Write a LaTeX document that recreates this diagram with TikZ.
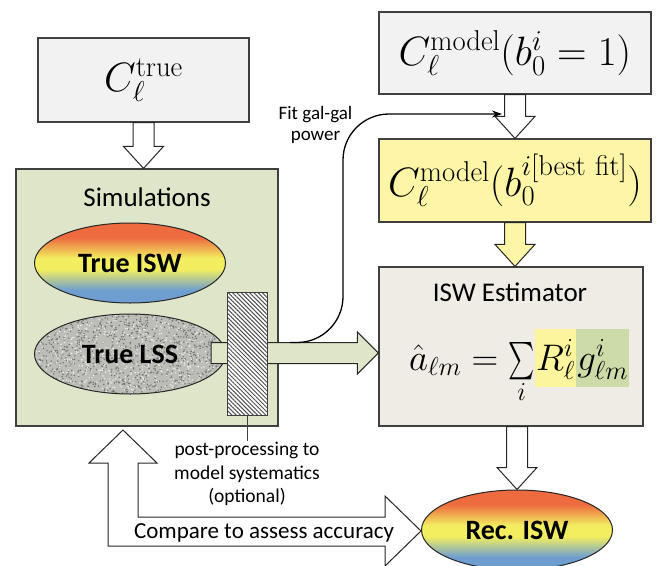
\RequirePackage{fix-cm}
\documentclass[tikz,border=0pt]{standalone}
\usepackage{exscale}
\usepackage{graphicx}
\usepackage[no-math]{fontspec}
\setmainfont{Carlito}
\usetikzlibrary{shapes.geometric, calc, arrows.meta, patterns.meta}

\definecolor{edgegray}{HTML}{404040}
\definecolor{boxgray}{HTML}{F2F2F2}
\definecolor{simgreen}{HTML}{DEE5C8}
\definecolor{boxyellow}{HTML}{FEF6A6}
\definecolor{estgray}{HTML}{EFECE5}
\definecolor{hlyellow}{HTML}{FDF59E}
\definecolor{hlgreen}{HTML}{CDDBA9}
\definecolor{iswred}{HTML}{EE6A3F}
\definecolor{iswyellow}{HTML}{F2EE60}
\definecolor{iswblue}{HTML}{6E9ED0}
\definecolor{lssgray}{HTML}{BDBDB8}
\definecolor{hatchgray}{HTML}{505050}

\pgfdeclareverticalshading{iswshade}{100bp}{color(0bp)=(iswblue); color(33bp)=(iswblue); color(46bp)=(iswyellow); color(53bp)=(iswyellow); color(66bp)=(iswred); color(100bp)=(iswred)}

\tikzset{
  box/.style={draw=edgegray, line width=1.2pt, inner sep=0pt},
  blob/.style={ellipse, draw=black!85, line width=1pt, minimum width=191pt, minimum height=80pt, inner sep=0pt, font=\fontsize{28}{32}\selectfont\bfseries},
  isw/.style={blob, shading=iswshade},
  blockline/.style={draw=black!85, line width=1pt, line join=miter},
  mathbig/.style={font=\fontsize{41}{45}\selectfont},
  formula/.style={inner ysep=0pt, font=\fontsize{37}{41}\selectfont},
  hlterm/.style={formula, anchor=base west, inner xsep=1pt, text height=41pt, text depth=17pt},
  title/.style={font=\fontsize{27}{32}\selectfont},
  note/.style={align=center, inner sep=1pt}
}

% tall narrow sum sign
\newcommand{\tallsum}{\mathop{\vcenter{\hbox{\scalebox{1}[1.5]{$\textstyle\sum$}}}}\limits}

% block arrow pointing down: fill, start, tip
\newcommand{\blockdown}[3]{%
  \draw[blockline, fill=#1] ($(#2)+(-10.5,0)$) -- ($(#3)+(-10.5,-22)$) -- ($(#3)+(-20,-22)$) -- (#3)
    -- ($(#3)+(20,-22)$) -- ($(#3)+(10.5,-22)$) -- ($(#2)+(10.5,0)$) -- cycle;}

\begin{document}
\begin{tikzpicture}[x=1pt, y=-1pt]
\path[use as bounding box, fill=white] (0,0) rectangle (658,565);
\pgfmathsetseed{1234}

	% Kasten links: Simulationen
	\node[box, fill=simgreen, minimum width=262pt, minimum height=257pt] (sim) at (147,297.5) {};
	\node[title] (simtitle) at (147,197) {Simulations};
	\node[isw] (trueisw) at (130,263) {True ISW};
	\node[blob, fill=lssgray, path picture={
	    \foreach \k in {1,...,1100} {\fill[black!55] ($(path picture bounding box.center)+({97*rand},{42*rand})$) circle (0.8pt);}
	    \foreach \k in {1,...,700} {\fill[white!85!gray] ($(path picture bounding box.center)+({97*rand},{42*rand})$) circle (0.8pt);}
	  }] (truelss) at (130,354) {True LSS};

	% Kaesten oben
	\node[box, fill=boxgray, minimum width=211pt, minimum height=84pt, mathbig] (ctrue) at (143.5,80) {$C_\ell^{\mathrm{true}}$};
	\node[box, fill=boxgray, minimum width=272pt, minimum height=82pt, mathbig] (cmodel) at (515,53) {$C_\ell^{\mathrm{model}}(b_0^i=1)$};
	\node[box, fill=boxyellow, minimum width=272pt, minimum height=83pt, mathbig] (cbest) at (515,180.5) {$C_\ell^{\mathrm{model}}(b_0^{i[\mathrm{best\ fit}]})$};

	% Schaetzer
	\node[box, fill=estgray, minimum width=264pt, minimum height=159pt] (est) at (511,346.5) {};
	\node[title] (esttitle) at (510,292) {ISW Estimator};
	\node[formula, anchor=base east, inner xsep=0pt] (ahat) at (535,370) {$\displaystyle \hat{a}_{\ell m}=\tallsum_i$};
	\node[hlterm, fill=hlyellow] (rterm) at (ahat.base east) {$R_\ell^i$};
	\node[hlterm, fill=hlgreen] (gterm) at (rterm.base east) {$g_{\ell m}^i$};

	% Rekonstruktion
	\node[isw] (recisw) at (517,530) {Rec. ISW};

	% Blockpfeile nach unten
	\blockdown{white}{ctrue.south}{ctrue.south |- sim.north}
	\blockdown{white}{cmodel.south}{cmodel.south |- cbest.north}
	\blockdown{boxyellow}{cbest.south}{cbest.south |- est.north}
	\blockdown{white}{recisw.north |- est.south}{recisw.north}

	% gruener Pfeil zum Schaetzer
	\coordinate (lssout) at ($(truelss.east)+(-15,-1)$);
	\coordinate (esttip) at (est.west |- lssout);
	\draw[blockline, fill=simgreen] ($(lssout)+(0,-10.5)$) -- ($(esttip)+(-21,-10.5)$) -- ($(esttip)+(-21,-21)$) -- (esttip)
	  -- ($(esttip)+(-21,21)$) -- ($(esttip)+(-21,10.5)$) -- ($(lssout)+(0,10.5)$) -- cycle;

	% Nachbearbeitung (schraffiert)
	\node[draw=edgegray, line width=1pt, minimum width=40pt, minimum height=123pt, preaction={fill=white},
	  pattern={Lines[angle=-45, distance=3pt, line width=1pt]}, pattern color=hatchgray] (postproc) at (247,353.5) {};
	\node[note, font=\fontsize{19.5}{23.5}\selectfont] (ppnote) at (247,474) {post-processing to\\model systematics\\(optional)};
	\draw[edgegray, line width=1pt] (postproc.south) -- (ppnote.north);

	% Fit gal-gal power
	\coordinate (fitfrom) at (290,342.5);
	\coordinate (fitto) at (502,114);
	\coordinate (bend) at (343,114);
	\draw[black, line width=1.3pt, rounded corners=46pt, -{Stealth[length=10pt, width=7pt]}]
	  (fitfrom) -- (fitfrom -| bend) -- (bend) -- (fitto);
	\node[note, font=\fontsize{19}{21}\selectfont] (fitlabel) at (315.5,124.5) {Fit gal-gal\\power};

	% Vergleich
	\draw[blockline, fill=white] (108,546) -- (108,463) -- (89,463) -- (123,430) -- (157,463) -- (138,463) -- (138,517)
	  -- (385,517) -- (385,496) -- (421,531) -- (385,566) -- (385,546) -- cycle;
	\node[font=\fontsize{23}{26}\selectfont, inner sep=0pt] (cmptext) at (264,533) {Compare to assess accuracy};

\end{tikzpicture}
\end{document}
